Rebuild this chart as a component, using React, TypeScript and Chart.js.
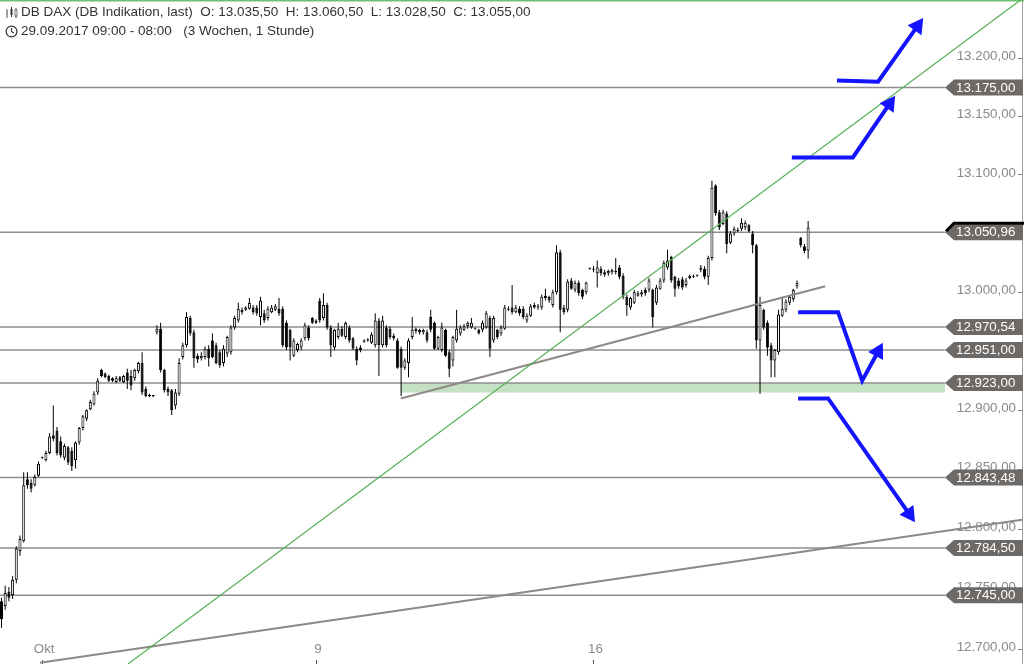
import React, { useEffect, useRef } from "react";
import { Chart, registerables } from "chart.js";

Chart.register(...registerables);

// ---- hourly candles (index = bar number) ----
const OPEN: number[] = [
  12740, 12736, 12748, 12745, 12758, 12782, 12790, 12842, 12839, 12837,
  12845, 12860, 12858, 12864, 12879, 12883, 12874, 12860, 12869, 12866,
  12858, 12873, 12885, 12893, 12901, 12905, 12915, 12934, 12931, 12929,
  12927, 12924, 12928, 12924, 12932, 12929, 12927, 12933, 12940, 12918,
  12913, 12912, 12966, 12969, 12934, 12918, 12917, 12904, 12914, 12945,
  12955, 12978, 12966, 12946, 12944, 12945, 12952, 12959, 12955, 12949,
  12940, 12948, 12949, 12970, 12976, 12985, 12985, 12986, 12987, 12987,
  12979, 12982, 12978, 12983, 12985, 12986, 12986, 12974, 12968, 12946,
  12951, 12953, 12961, 12970, 12978, 12976, 12993, 12978, 12989, 12970,
  12953, 12962, 12969, 12962, 12970, 12961, 12952, 12953, 12959, 12960,
  12957, 12955, 12976, 12955, 12970, 12969, 12963, 12959, 12952, 12936,
  12940, 12962, 12967, 12968, 12966, 12966, 12979, 12974, 12952, 12951,
  12968, 12949, 12942, 12959, 12965, 12968, 12971, 12970, 12969, 12968,
  12968, 12970, 12978, 12959, 12968, 12965, 12969, 12986, 12987, 12983,
  12986, 12986, 12976, 12980, 12989, 12988, 12987, 12997, 12996, 12989,
  13000, 13034, 12987, 12985, 13010, 13002, 13008, 13002, 13000, 13020,
  13019, 13016, 13020, 13017, 13016, 13017, 13018, 13021, 13014, 12996,
  12987, 12991, 12997, 12998, 13002, 13002, 13002, 12991, 13003, 13010,
  13021, 13030, 13013, 13010, 13011, 13006, 13012, 13013, 13014, 13019,
  13020, 13013, 13029, 13091, 13068, 13058, 13067, 13042, 13050, 13052,
  13054, 13055, 13057, 13050, 13040, 12959, 12985, 12974, 12955, 12942,
  12949, 12980, 12985, 12991, 12994, 13005, 13046, 13039, 13035.5,
];
const HIGH: number[] = [
  12743, 12753, 12752, 12761, 12786, 12795, 12848, 12848, 12842, 12846,
  12857, 12861, 12866, 12881, 12904, 12886, 12878, 12872, 12870, 12869,
  12874, 12886, 12896, 12901, 12909, 12916, 12927, 12935, 12932, 12930,
  12928, 12929, 12929, 12930, 12935, 12934, 12935, 12941, 12949, 12920,
  12914, 12913, 12972, 12974, 12935, 12920, 12918, 12918, 12944, 12957,
  12983, 12980, 12968, 12948, 12949, 12954, 12955, 12965, 12957, 12951,
  12955, 12963, 12972, 12980, 12991, 12987, 12988, 12995, 12989, 12989,
  12996, 12985, 12988, 12989, 12990, 12995, 12988, 12976, 12969, 12961,
  12957, 12961, 12974, 12972, 12979, 12977, 12995, 12999, 12991, 12972,
  12969, 12974, 12971, 12975, 12972, 12962, 12954, 12955, 12960, 12961,
  12966, 12982, 12978, 12980, 12972, 12971, 12965, 12961, 12954, 12944,
  12961, 12979, 12970, 12969, 12969, 12968, 12985, 12975, 12963, 12974,
  12969, 12951, 12963, 12985, 12972, 12973, 12975, 12978, 12970, 12969,
  12976, 12984, 12980, 12980, 12969, 12972, 12989, 12988, 13006, 12989,
  12988, 12988, 12982, 12990, 12991, 12990, 12998, 13003, 12997, 13002,
  13040, 13036, 12989, 13011, 13012, 13010, 13010, 13003, 13009, 13021,
  13022, 13027, 13022, 13019, 13019, 13020, 13029, 13023, 13016, 12998,
  12996, 13002, 13001, 13002, 13004, 13012, 13003, 13006, 13012, 13027,
  13036, 13031, 13014, 13012, 13013, 13012, 13015, 13015, 13015, 13023,
  13022, 13031, 13095, 13092, 13070, 13070, 13069, 13052, 13056, 13055,
  13063, 13061, 13058, 13052, 13041, 12996, 12986, 12976, 12957, 12952,
  12985, 12996, 12994, 12997, 13003, 13010, 13047, 13041, 13060.5,
];
const LOW: number[] = [
  12718, 12733, 12740, 12742, 12755, 12778, 12789, 12834, 12831, 12836,
  12844, 12859, 12857, 12863, 12874, 12862, 12860, 12858, 12854, 12849,
  12851, 12871, 12883, 12891, 12900, 12904, 12913, 12928, 12927, 12924,
  12924, 12923, 12924, 12923, 12918, 12917, 12925, 12931, 12913, 12911,
  12911, 12911, 12964, 12932, 12915, 12912, 12896, 12901, 12912, 12943,
  12953, 12963, 12936, 12940, 12942, 12943, 12937, 12944, 12939, 12936,
  12937, 12945, 12947, 12968, 12974, 12981, 12984, 12985, 12981, 12980,
  12972, 12974, 12976, 12982, 12984, 12980, 12953, 12951, 12942, 12945,
  12949, 12951, 12959, 12959, 12973, 12973, 12974, 12976, 12968, 12945,
  12951, 12960, 12962, 12960, 12957, 12951, 12938, 12949, 12957, 12958,
  12956, 12953, 12929, 12953, 12953, 12960, 12959, 12935, 12912, 12934,
  12928, 12960, 12965, 12964, 12964, 12957, 12966, 12951, 12951, 12949,
  12945, 12928, 12937, 12957, 12963, 12967, 12969, 12969, 12968, 12964,
  12966, 12969, 12945, 12957, 12960, 12963, 12968, 12984, 12981, 12982,
  12980, 12977, 12974, 12979, 12986, 12985, 12985, 12993, 12991, 12987,
  12998, 12966, 12981, 12983, 13002, 13000, 12997, 12994, 12998, 13019,
  13017, 13004, 13014, 13013, 13014, 13015, 13015, 13011, 12994, 12980,
  12985, 12990, 12996, 12996, 12997, 13000, 12970, 12989, 13002, 13008,
  13019, 13008, 12996, 13003, 13002, 13004, 13011, 13012, 13013, 13017,
  13011, 13006, 13027, 13065, 13053, 13057, 13033, 13041, 13048, 13051,
  13052, 13053, 13051, 13033, 12952, 12914, 12968, 12946, 12928, 12928,
  12947, 12979, 12983, 12989, 12992, 13003, 13038, 13033, 13028.5,
];
const CLOSE: number[] = [
  12725, 12747, 12743, 12758, 12784, 12792, 12837, 12837, 12834, 12844,
  12855, 12860, 12864, 12878, 12876, 12864, 12862, 12870, 12856, 12853,
  12873, 12885, 12895, 12900, 12907, 12914, 12925, 12929, 12928, 12925,
  12925, 12927, 12925, 12929, 12925, 12921, 12934, 12940, 12915, 12912,
  12912, 12912, 12969, 12934, 12917, 12915, 12900, 12915, 12940, 12955,
  12979, 12965, 12944, 12943, 12946, 12952, 12944, 12945, 12940, 12938,
  12952, 12962, 12970, 12978, 12986, 12983, 12987, 12991, 12983, 12982,
  12993, 12976, 12986, 12987, 12988, 12982, 12955, 12953, 12953, 12959,
  12956, 12959, 12972, 12961, 12974, 12974, 12976, 12989, 12970, 12955,
  12968, 12969, 12963, 12974, 12959, 12952, 12942, 12951, 12958, 12959,
  12964, 12976, 12955, 12976, 12955, 12962, 12961, 12936, 12936, 12942,
  12959, 12968, 12969, 12966, 12968, 12959, 12968, 12952, 12962, 12970,
  12946, 12935, 12962, 12969, 12970, 12971, 12974, 12974, 12969, 12965,
  12974, 12982, 12952, 12978, 12962, 12970, 12987, 12985, 12983, 12987,
  12982, 12979, 12980, 12988, 12987, 12987, 12996, 12995, 12993, 13000,
  13034, 12985, 12983, 13009, 13003, 13008, 12999, 12996, 13008, 13020,
  13020, 13021, 13016, 13015, 13018, 13019, 13017, 13013, 12996, 12989,
  12995, 13000, 12999, 13000, 12999, 13010, 12979, 13004, 13010, 13025,
  13027, 13010, 13003, 13005, 13004, 13010, 13014, 13014, 13014, 13021,
  13013, 13029, 13089, 13067, 13055, 13068, 13041, 13050, 13054, 13053,
  13059, 13059, 13052, 13040, 12959, 12989, 12970, 12953, 12942, 12951,
  12981, 12986, 12992, 12996, 13002, 13008, 13040, 13035, 13055,
];

// ---- axes ----
const X_TICK_POS = [11, 85, 160];
const X_TICK_LABELS = ["Okt", "9", "16"];
const Y_TICKS = [12700, 12750, 12800, 12850, 12900, 12950, 13000, 13050, 13100, 13150, 13200];
const X_MIN = -0.405;
const X_MAX = 275.8;
const Y_MIN = 12687.9;
const Y_MAX = 13250.6;

// ---- drawn analysis ----
const LEVELS = [13175, 13050.96, 12970.54, 12951, 12923, 12843.48, 12784.5, 12745];
const LAST_PRICE = 13050.96;
const GREEN_LEVEL = 13250;
const ZONE_START = 107.9;
const ZONE_TOP = 12923;
const ZONE_BOTTOM = 12915;
const GREEN_TREND: [number, number][] = [[34.2, 12687.9], [275.4, 13250.6]];
const GRAY_TREND_SHORT: [number, number][] = [[107.9, 12910], [222.6, 13005]];
const GRAY_TREND_LONG: [number, number][] = [[10.4, 12689], [275.8, 12808]];
const ARROW_UP_1: [number, number][] = [[225.8, 13181], [236.9, 13180], [249.1, 13235]];
const ARROW_UP_2: [number, number][] = [[213.6, 13115], [230.1, 13115], [241.5, 13168]];
const ARROW_BOUNCE: [number, number][] = [[215.3, 12983], [226.1, 12983], [232.6, 12925], [238.2, 12957]];
const ARROW_DOWN: [number, number][] = [[215.3, 12910], [223.4, 12910], [246.9, 12806]];

const HEADER_TITLE = "DB DAX (DB Indikation, last)";
const HEADER_RANGE = "29.09.2017 09:00 - 08:00   (3 Wochen, 1 Stunde)";

const FONT_FAMILY = '"Liberation Sans", Arial, Helvetica, sans-serif';

function fmtDE(v: number): string {
  const fixed = v.toFixed(2);
  const [intPart, dec] = fixed.split(".");
  return intPart.replace(/\B(?=(\d{3})+(?!\d))/g, ".") + "," + dec;
}

function drawPolyline(ctx: CanvasRenderingContext2D, xs: any, ys: any, pts: [number, number][]) {
  ctx.beginPath();
  pts.forEach(([i, v], k) => {
    const px = xs.getPixelForValue(i);
    const py = ys.getPixelForValue(v);
    if (k === 0) ctx.moveTo(px, py);
    else ctx.lineTo(px, py);
  });
  ctx.stroke();
}

function drawArrow(ctx: CanvasRenderingContext2D, xs: any, ys: any, pts: [number, number][]) {
  const p = pts.map(([i, v]) => [xs.getPixelForValue(i), ys.getPixelForValue(v)]);
  const n = p.length;
  const [tx, ty] = p[n - 1];
  const [qx, qy] = p[n - 2];
  const dx = tx - qx, dy = ty - qy;
  const len = Math.hypot(dx, dy) || 1;
  const ux = dx / len, uy = dy / len;
  const head = 15, half = 8.5;
  const bx = tx - ux * head, by = ty - uy * head;
  ctx.beginPath();
  ctx.moveTo(p[0][0], p[0][1]);
  for (let k = 1; k < n - 1; k++) ctx.lineTo(p[k][0], p[k][1]);
  ctx.lineTo(bx + ux * 2, by + uy * 2);
  ctx.stroke();
  ctx.beginPath();
  ctx.moveTo(tx, ty);
  ctx.lineTo(bx - uy * half, by + ux * half);
  ctx.lineTo(bx + uy * half, by - ux * half);
  ctx.closePath();
  ctx.fill();
}

const TAG_WIDTH = 77;

const annotationPlugin = {
  id: "chartAnnotations",
  beforeDatasetsDraw(chart: any) {
    const { ctx, chartArea: a, scales } = chart;
    const xs = scales.x, ys = scales.y;
    const tip = a.right - TAG_WIDTH;
    ctx.save();
    // support zone
    const zx = xs.getPixelForValue(ZONE_START);
    const zy1 = ys.getPixelForValue(ZONE_TOP);
    const zy2 = ys.getPixelForValue(ZONE_BOTTOM);
    ctx.fillStyle = "#c4e1c4";
    ctx.fillRect(zx, zy1, tip - zx, zy2 - zy1);
    // horizontal levels
    ctx.strokeStyle = "#8e8e8e";
    ctx.lineWidth = 1.5;
    LEVELS.forEach((v) => {
      const py = ys.getPixelForValue(v);
      ctx.beginPath();
      ctx.moveTo(a.left, py);
      ctx.lineTo(tip, py);
      ctx.stroke();
    });
    // green level at top
    ctx.strokeStyle = "#6fbf6f";
    ctx.lineWidth = 1.5;
    const gy = ys.getPixelForValue(GREEN_LEVEL);
    ctx.beginPath();
    ctx.moveTo(a.left, gy);
    ctx.lineTo(a.right + 2, gy);
    ctx.stroke();
    // x-axis labels (drawn inside the plot, from the x scale)
    ctx.fillStyle = "#8a8a8a";
    ctx.font = `13.33px ${FONT_FAMILY}`;
    ctx.textAlign = "center";
    ctx.textBaseline = "middle";
    X_TICK_POS.forEach((v, k) => {
      ctx.fillText(X_TICK_LABELS[k], xs.getPixelForValue(v) + 2, a.bottom - 15);
    });
    ctx.restore();
  },
  afterDatasetsDraw(chart: any) {
    const { ctx, chartArea: a, scales } = chart;
    const xs = scales.x, ys = scales.y;
    ctx.save();
    ctx.beginPath();
    ctx.rect(a.left, a.top, a.right - a.left + 2, a.bottom - a.top);
    ctx.clip();
    ctx.lineCap = "butt";
    // trend lines
    ctx.strokeStyle = "#8f8884";
    ctx.lineWidth = 2;
    drawPolyline(ctx, xs, ys, GRAY_TREND_SHORT);
    drawPolyline(ctx, xs, ys, GRAY_TREND_LONG);
    ctx.strokeStyle = "#55b055";
    ctx.lineWidth = 1.2;
    drawPolyline(ctx, xs, ys, GREEN_TREND);
    // blue scenario arrows
    ctx.strokeStyle = "#1414ff";
    ctx.fillStyle = "#1414ff";
    ctx.lineWidth = 4;
    ctx.lineJoin = "miter";
    [ARROW_UP_1, ARROW_UP_2, ARROW_BOUNCE, ARROW_DOWN].forEach((pts) => drawArrow(ctx, xs, ys, pts));
    ctx.restore();
  },
  afterDraw(chart: any) {
    const { ctx, chartArea: a, scales } = chart;
    const ys = scales.y;
    const tip = a.right - TAG_WIDTH;
    const right = a.right + 1;
    ctx.save();
    ctx.font = `13.33px ${FONT_FAMILY}`;
    ctx.textBaseline = "middle";
    ctx.textAlign = "left";
    LEVELS.forEach((v) => {
      const py = ys.getPixelForValue(v);
      ctx.fillStyle = "#6d6966";
      ctx.beginPath();
      ctx.moveTo(tip, py);
      ctx.lineTo(tip + 9, py - 8);
      ctx.lineTo(right, py - 8);
      ctx.lineTo(right, py + 8);
      ctx.lineTo(tip + 9, py + 8);
      ctx.closePath();
      ctx.fill();
      if (v === LAST_PRICE) {
        ctx.strokeStyle = "#000";
        ctx.lineWidth = 3;
        ctx.beginPath();
        ctx.moveTo(tip + 1, py - 1);
        ctx.lineTo(tip + 9, py - 9);
        ctx.lineTo(right + 2, py - 9);
        ctx.stroke();
      }
      ctx.fillStyle = "#ffffff";
      ctx.fillText(fmtDE(v), tip + 11, py + 0.5);
    });
    ctx.restore();
  },
};

function CandleIcon() {
  return (
    <svg width="13" height="13" viewBox="0 0 13 13" style={{ position: "absolute", left: 5, top: 6 }}>
      <line x1="2" y1="3" x2="2" y2="12" stroke="#555" strokeWidth="1" />
      <rect x="1" y="5" width="2" height="4" fill="#999" />
      <line x1="6.5" y1="1" x2="6.5" y2="11" stroke="#333" strokeWidth="1" />
      <rect x="5.5" y="3" width="2" height="6" fill="#333" />
      <line x1="11" y1="2" x2="11" y2="12" stroke="#555" strokeWidth="1" />
      <rect x="10" y="4" width="2" height="6" fill="#fff" stroke="#555" strokeWidth="0.8" />
    </svg>
  );
}

function ClockIcon() {
  return (
    <svg width="13" height="13" viewBox="0 0 13 13" style={{ position: "absolute", left: 5, top: 25 }}>
      <circle cx="6.5" cy="6.5" r="5.4" fill="none" stroke="#333" strokeWidth="1.2" />
      <line x1="6.5" y1="6.5" x2="6.5" y2="3" stroke="#333" strokeWidth="1.1" />
      <line x1="6.5" y1="6.5" x2="9" y2="8" stroke="#333" strokeWidth="1.1" />
    </svg>
  );
}

export default function App() {
  const canvasRef = useRef<HTMLCanvasElement | null>(null);

  useEffect(() => {
    const canvas = canvasRef.current;
    if (!canvas) return;
    const wicks = HIGH.map((h, i) => ({ x: i, y: [LOW[i], h] }));
    const bodies = OPEN.map((o, i) => ({ x: i, y: [o, CLOSE[i]] }));

    const chart = new Chart(canvas, {
      type: "bar",
      data: {
        datasets: [
          {
            label: "Docht",
            data: wicks as any,
            backgroundColor: "#000000",
            borderWidth: 0,
            grouped: false,
            barPercentage: 1,
            categoryPercentage: 1,
            maxBarThickness: 1,
            minBarLength: 1,
            inflateAmount: 0,
            order: 2,
          } as any,
          {
            label: "Kerze",
            data: bodies as any,
            backgroundColor: (c: any) => (CLOSE[c.dataIndex] >= OPEN[c.dataIndex] ? "#ffffff" : "#000000"),
            borderColor: "#000000",
            borderWidth: 1,
            borderSkipped: false,
            grouped: false,
            barPercentage: 1,
            categoryPercentage: 1,
            maxBarThickness: 3,
            minBarLength: 1,
            inflateAmount: 0,
            order: 1,
          } as any,
        ],
      },
      options: {
        responsive: false,
        animation: false,
        events: [],
        layout: { padding: 0, autoPadding: false } as any,
        plugins: { legend: { display: false }, tooltip: { enabled: false } },
        scales: {
          x: {
            type: "linear",
            min: X_MIN,
            max: X_MAX,
            bounds: "data",
            offset: false,
            grid: { display: true, offset: false, drawOnChartArea: false, drawTicks: true, tickLength: -4, color: "#555555", lineWidth: 1 },
            border: { display: false },
            ticks: { display: false, autoSkip: false, maxRotation: 0, minRotation: 0 },
            afterBuildTicks: (s: any) => {
              s.ticks = X_TICK_POS.map((v) => ({ value: v }));
            },
            afterFit: (s: any) => {
              s.height = 0;
              s.paddingLeft = 0;
              s.paddingRight = 0;
              s.paddingTop = 0;
              s.paddingBottom = 0;
            },
          } as any,
          y: {
            type: "logarithmic",
            position: "right",
            min: Y_MIN,
            max: Y_MAX,
            bounds: "data",
            grid: { display: true, drawOnChartArea: false, drawTicks: true, tickLength: -4, color: "#888888", lineWidth: 1 },
            border: { display: true, color: "#a0a0a0", width: 1 },
            ticks: {
              mirror: true,
              padding: -6,
              labelOffset: -2,
              autoSkip: false,
              color: "#8a8a8a",
              font: { family: FONT_FAMILY, size: 13.33 },
              callback: (v: any) => fmtDE(Number(v)),
            },
            afterBuildTicks: (s: any) => {
              s.ticks = Y_TICKS.map((v) => ({ value: v }));
            },
            afterFit: (s: any) => {
              s.width = 2;
              s.paddingTop = 0;
              s.paddingBottom = 0;
              s.paddingLeft = 0;
              s.paddingRight = 0;
            },
          } as any,
        },
      },
      plugins: [annotationPlugin],
    });

    return () => chart.destroy();
  }, []);

  const n = OPEN.length - 1;
  const headerLine =
    `${HEADER_TITLE}  O: ${fmtDE(OPEN[n])}  H: ${fmtDE(HIGH[n])}  L: ${fmtDE(LOW[n])}  C: ${fmtDE(CLOSE[n])}`;

  const textStyle: React.CSSProperties = {
    position: "absolute",
    left: 21,
    whiteSpace: "pre",
    font: `13.5px ${FONT_FAMILY}`,
    lineHeight: "16px",
    color: "#333333",
  };

  return (
    <div style={{ position: "fixed", left: 0, top: 0, width: 1024, height: 664, background: "#ffffff", overflow: "hidden" }}>
      <canvas ref={canvasRef} width={1024} height={664} style={{ position: "absolute", left: 0, top: 0 }} />
      <CandleIcon />
      <div style={{ ...textStyle, top: 4 }}>{headerLine}</div>
      <ClockIcon />
      <div style={{ ...textStyle, top: 23 }}>{HEADER_RANGE}</div>
    </div>
  );
}
